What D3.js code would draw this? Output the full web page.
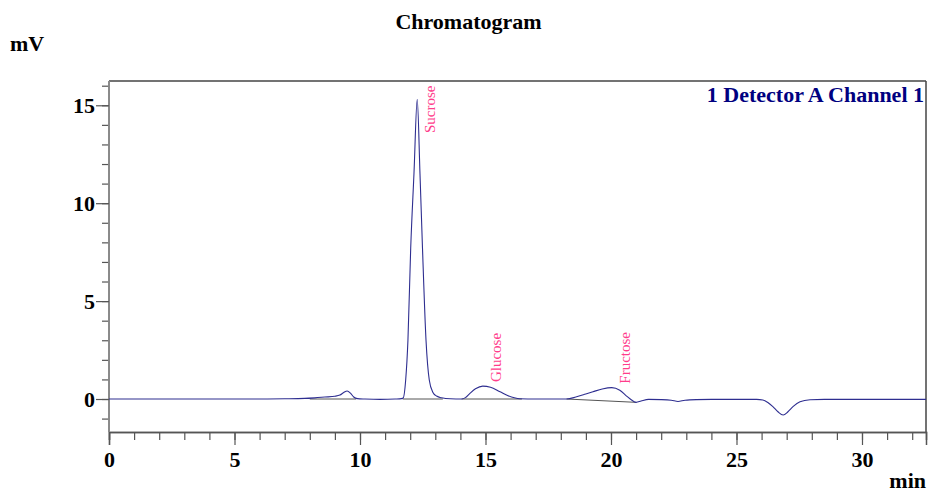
<!DOCTYPE html>
<html>
<head>
<meta charset="utf-8">
<script src="https://cdn.jsdelivr.net/npm/d3@7"></script>
<style>
html,body{margin:0;padding:0;background:#fff;}
svg{display:block;}
</style>
</head>
<body>
<svg id="chart" width="928" height="494"></svg>
<script>
// ---- data ----
const times = [0, 1, 2, 3, 4, 5, 6, 7, 7.8, 8.2, 8.6, 9.0, 9.2, 9.35, 9.49, 9.62, 9.75, 9.9, 10.2, 10.8, 11.4, 11.65, 11.72, 11.82, 11.91, 12.02, 12.15, 12.28, 12.39, 12.49, 12.63, 12.76, 12.9, 13.05, 13.25, 13.6, 14.05, 14.2, 14.38, 14.6, 14.89, 15.2, 15.58, 15.9, 16.15, 16.37, 17, 18, 18.23, 18.6, 18.95, 19.28, 19.65, 20.03, 20.35, 20.62, 20.82, 21.0, 21.2, 21.5, 22.0, 22.4, 22.67, 22.95, 23.4, 24, 25, 25.8, 26.05, 26.25, 26.45, 26.65, 26.86, 27.05, 27.25, 27.53, 27.93, 28.5, 29.5, 30.5, 31.5, 32.55];
const signal = [0, 0, 0, 0, 0, 0, 0, 0.01, 0.03, 0.06, 0.1, 0.14, 0.2, 0.33, 0.41, 0.3, 0.1, 0.02, 0.0, -0.02, 0.0, 0.02, 0.05, 0.97, 3.0, 7.7, 11.5, 15.3, 11.5, 7.7, 3.0, 0.97, 0.35, 0.15, 0.06, 0.01, 0.0, 0.07, 0.29, 0.52, 0.66, 0.6, 0.37, 0.17, 0.06, 0.01, 0.0, 0.0, 0.0, 0.1, 0.24, 0.37, 0.51, 0.58, 0.45, 0.15, -0.05, -0.17, -0.1, -0.02, -0.03, -0.06, -0.13, -0.06, -0.03, -0.02, -0.02, -0.02, -0.05, -0.18, -0.39, -0.65, -0.82, -0.65, -0.39, -0.14, -0.04, -0.02, -0.02, -0.02, -0.02, -0.02];

const peakNames = ["Sucrose", "Glucose", "Fructose"];
const peakTimes = [12.28, 14.89, 20.03];
const peakHeights = [15.3, 0.66, 0.58];

const baseStart = [8.0, 11.7, 14.05, 18.23];
const baseEnd = [9.85, 13.3, 16.45, 21.0];
const baseStartVal = [0, 0, 0, 0];
const baseEndVal = [0, 0, 0, -0.17];

const xMajorTicks = [0, 5, 10, 15, 20, 25, 30];
const yMajorTicks = [0, 5, 10, 15];

const titleText = "Chromatogram";
const yUnit = "mV";
const xUnit = "min";
const channelName = "1 Detector A Channel 1";

// ---- layout ----
const svg = d3.select("#chart");
const L = 109, R = 926, T = 81, B = 432;
const x = d3.scaleLinear().domain([0, 32.55]).range([L, R]);
const y = d3.scaleLinear().domain([-1.685, 16.24]).range([B, T]);
const serif = "'Liberation Serif','Times New Roman',serif";
const FS = 22;

// title & units
svg.append("text").attr("x", 468.5).attr("y", 29).attr("text-anchor", "middle")
  .attr("font-family", serif).attr("font-weight", "bold").attr("font-size", FS).text(titleText);
svg.append("text").attr("x", 10).attr("y", 51)
  .attr("font-family", serif).attr("font-weight", "bold").attr("font-size", FS).text(yUnit);
svg.append("text").attr("x", 926).attr("y", 488).attr("text-anchor", "end")
  .attr("font-family", serif).attr("font-weight", "bold").attr("font-size", FS).text(xUnit);

// frame top & right
svg.append("line").attr("x1", L).attr("x2", R).attr("y1", T).attr("y2", T)
  .attr("stroke", "#444").attr("stroke-width", 1.5);
svg.append("line").attr("x1", R).attr("x2", R).attr("y1", T).attr("y2", B)
  .attr("stroke", "#444").attr("stroke-width", 1.5);

// x axis
const xAxisMinor = d3.axisBottom(x).tickValues(d3.range(0, 33, 1)).tickSize(8).tickFormat("");
const gxm = svg.append("g").attr("transform", `translate(0,${B})`).call(xAxisMinor);
const xAxisMajor = d3.axisBottom(x).tickValues(xMajorTicks).tickSize(13).tickPadding(6).tickFormat(d3.format("d"));
const gx = svg.append("g").attr("transform", `translate(0,${B})`).call(xAxisMajor);
[gxm, gx].forEach(g => {
  g.select(".domain").attr("stroke", "#555").attr("stroke-width", 1.5);
  g.selectAll(".tick line").attr("stroke", "#555").attr("stroke-width", 1.2);
});
gx.selectAll(".tick text").attr("font-family", serif).attr("font-weight", "bold")
  .attr("font-size", FS).attr("fill", "#000");

// y axis
const yAxisMinor = d3.axisLeft(y).tickValues(d3.range(-1, 17, 1)).tickSize(7).tickFormat("");
const gym = svg.append("g").attr("transform", `translate(${L},0)`).call(yAxisMinor);
const yAxisMajor = d3.axisLeft(y).tickValues(yMajorTicks).tickSize(13).tickPadding(1).tickFormat(d3.format("d"));
const gy = svg.append("g").attr("transform", `translate(${L},0)`).call(yAxisMajor);
[gym, gy].forEach(g => {
  g.select(".domain").attr("stroke", "#8a8a8a").attr("stroke-width", 1.8)
    .attr("d", `M0,${T}V${B}`);
  g.selectAll(".tick line").attr("stroke", "#555").attr("stroke-width", 1.2);
});
gy.selectAll(".tick text").attr("font-family", serif).attr("font-weight", "bold")
  .attr("font-size", FS).attr("fill", "#000").attr("dy", "0.34em");

// baselines under peaks
svg.append("g").selectAll("line").data(baseStart).join("line")
  .attr("x1", (d, i) => x(baseStart[i])).attr("x2", (d, i) => x(baseEnd[i]))
  .attr("y1", (d, i) => y(baseStartVal[i])).attr("y2", (d, i) => y(baseEndVal[i]))
  .attr("stroke", "#555").attr("stroke-width", 1);

// trace
const pts = times.map((t, i) => [t, signal[i]]);
const line = d3.line().x(d => x(d[0])).y(d => y(d[1])).curve(d3.curveMonotoneX);
svg.append("path").datum(pts).attr("d", line).attr("fill", "none")
  .attr("stroke", "#2e2e90").attr("stroke-width", 1.1);

// peak labels
svg.append("g").selectAll("text").data(peakNames).join("text")
  .attr("transform", (d, i) => {
    const px = x(peakTimes[i]) + 18;
    const py = Math.max(y(peakHeights[i]) - 4, T + 52);
    return `translate(${px},${py}) rotate(-90)`;
  })
  .attr("font-family", serif).attr("font-size", 15).attr("fill", "#ff3d8b")
  .text(d => d);

// channel legend
svg.append("text").attr("x", 924).attr("y", 102).attr("text-anchor", "end")
  .attr("font-family", serif).attr("font-weight", "bold").attr("font-size", FS)
  .attr("fill", "#000080").text(channelName);
</script>
</body>
</html>
